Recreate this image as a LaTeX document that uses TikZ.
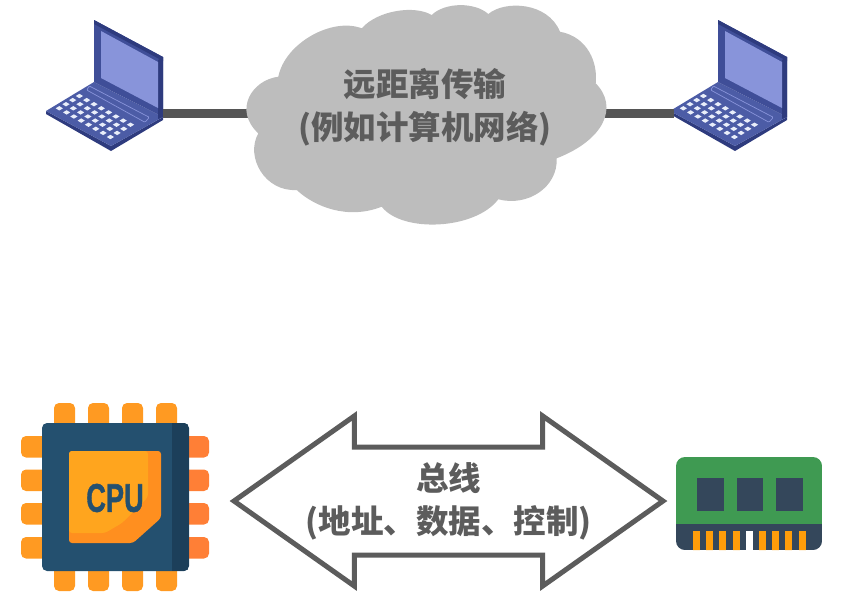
\documentclass[tikz,border=0pt]{standalone}
\usepackage{fontspec}
\usepackage{tikz}
\usetikzlibrary{shapes,shapes.arrows,positioning,calc}
\newfontfamily\cjkfont{Noto Sans CJK SC}
\setmainfont{Liberation Sans}
\newfontfamily\cpufont[FakeBold=1.4]{Liberation Sans}
\definecolor{cloudgray}{HTML}{BDBDBD}
\definecolor{textgray}{HTML}{5C5C5C}
\definecolor{wiregray}{HTML}{555555}
\definecolor{lapframe}{HTML}{3F4E98}
\definecolor{lapside}{HTML}{2E3B7E}
\definecolor{lapbase}{HTML}{4C5CA6}
\definecolor{lapscreen}{HTML}{8894DA}
\definecolor{lapkey}{HTML}{E9EEFA}
\definecolor{cpublue}{HTML}{24506F}
\definecolor{cpudark}{HTML}{1C3F5A}
\definecolor{pinleft}{HTML}{FF9A22}
\definecolor{pinright}{HTML}{FF7F36}
\definecolor{dieface}{HTML}{FFA51E}
\definecolor{dieedge}{HTML}{FF8F1F}
\definecolor{ramgreen}{HTML}{3F9A52}
\definecolor{ramdark}{HTML}{34475B}
\definecolor{ramgold}{HTML}{FF9D0A}
\tikzstyle{wire} = [wiregray,line width=9pt]
\tikzstyle{label} = [font=\cjkfont\bfseries\fontsize{32.5}{43}\selectfont,text=textgray,align=center]
\tikzstyle{pin} = [rounded corners=5pt]
\tikzset{
laptop/.pic={
	\fill[lapside] (0,0) -- (0,3) -- (65,40) -- (117,9) -- (117,6) -- (65,35) -- cycle;
	\fill[lapbase] (0,0) -- (48,-29) -- (117,6) -- (65,35) -- cycle;
	\fill[lapframe] (48,-91) -- (117,-54) -- (117,6) -- (48,-29) -- cycle;
	\fill[lapside] (48,-91) -- (117,-54) -- (117,-50) -- (48,-87) -- cycle;
	\fill[lapside] (112,-51) -- (117,-54) -- (117,6) -- (112,8) -- cycle;
	\fill[lapscreen] (55,-80) -- (112,-49) -- (112,-3) -- (55,-33) -- cycle;
	\draw[lapscreen,line width=0.7pt,rounded corners=1pt] (43.3,-25) -- (103.3,6.3) -- (99,11.3) -- (40.7,-21) -- cycle;
	\foreach \c in {0,...,7}
		\foreach \r in {0,...,3}
			\fill[lapkey] ({13.3+7.3*\c+6.7*\r},{-2.7+4.1*\c-4.1*\r}) +(-3.6,0) -- +(0,-2.2) -- +(3.6,0) -- +(0,2.2) -- cycle;
	\coordinate (-port) at (117,2);
	\coordinate (-rear) at (4,2);
}}

\begin{document}
\begin{tikzpicture}[x=1pt,y=-1pt]
	\useasboundingbox (0,0) rectangle (864,606);

	% LAPTOPS AND LINK

	\pic (lapleft) at (46,111) {laptop};
	\pic (lapright) at (670,111) {laptop};
	\coordinate (cloudwest) at (255,113);
	\coordinate (cloudeast) at (600,113);
	\draw[wire] (lapleft-port) -- (cloudwest);
	\draw[wire] (cloudeast) -- (lapright-rear);

	% CLOUD

	\fill[cloudgray] (278.3,76.7) .. controls (285,43) and (332,17) .. (361.7,28.3)
		.. controls (378,10) and (415,5) .. (431.7,15)
		.. controls (445,2) and (475,2) .. (488.3,14)
		.. controls (505,0) and (548,2) .. (560,31.7)
		.. controls (588,37) and (598,63) .. (595.7,83.3)
		.. controls (619,107) and (604,140) .. (556.7,158.3)
		.. controls (558,187) and (528,207) .. (498.3,199.3)
		.. controls (475,230) and (402,233) .. (381.7,206.7)
		.. controls (348,220) and (315,207) .. (296.7,190)
		.. controls (265,192) and (245,157) .. (258.3,133.3)
		.. controls (233,110) and (252,80) .. (278.3,76.7) -- cycle;
	\node[label] (cloudtext) at (425,107.5) {远距离传输\\(例如计算机网络)};

	% BUS

	\node[double arrow, draw=textgray, line width=5pt, fill=white, double arrow head extend=31pt, double arrow tip angle=70.5, minimum width=170pt, minimum height=429pt, inner xsep=0pt, inner ysep=51.5pt] (bus) at (448.5,501) {};
	\node[label] (bustext) at (bus.center) {总线\\(地址、数据、控制)};

	% CPU

	\foreach \x in {54,88,122,156} {
		\fill[pinleft,pin] (\x,403) rectangle ++(21,30);
		\fill[pinleft,pin] (\x,561) rectangle ++(21,30);
	}
	\foreach \y in {436,469.5,503,537} {
		\fill[pinleft,pin] (21,\y) rectangle ++(30,21.5);
		\fill[pinright,pin] (180,\y) rectangle ++(29,21.5);
	}
	\node[fill=cpublue, rounded corners=5pt, minimum width=147pt, minimum height=148pt, inner sep=0pt] (cpu) at (115.5,497) {};
	\begin{scope}
		\clip[rounded corners=5pt] (42,423) rectangle (189,571);
		\fill[cpudark] (172,423) rectangle (189,571);
	\end{scope}
	\fill[dieedge,rounded corners=3pt] (69,451) -- (161,451) -- (161,518) -- (133,543) -- (69,543) -- cycle;
	\fill[dieface,rounded corners=3pt] (69,451) -- (148,451) -- (148,497) -- (122,523) -- (105,533) -- (69,533) -- cycle;
	\node[font=\cpufont\bfseries\fontsize{40}{40}\selectfont, text=cpublue, xscale=0.68, inner sep=0pt] (cputext) at (115,498) {CPU};

	% MEMORY

	\begin{scope}
		\clip[rounded corners=9pt] (676,457) rectangle (822,550);
		\fill[ramgreen] (676,457) rectangle (822,524);
		\fill[ramdark] (676,524) rectangle (822,550);
		\foreach \x in {0,1,2,3,5,6,7,8}
			\fill[ramgold] ({693+13.2*\x},531) rectangle ++(7,20);
		\fill[white] (746,531) rectangle (752.5,551);
	\end{scope}
	\foreach \x in {697,736.5,776}
		\fill[ramdark] (\x,478) rectangle ++(26.5,33);

\end{tikzpicture}
\end{document}
